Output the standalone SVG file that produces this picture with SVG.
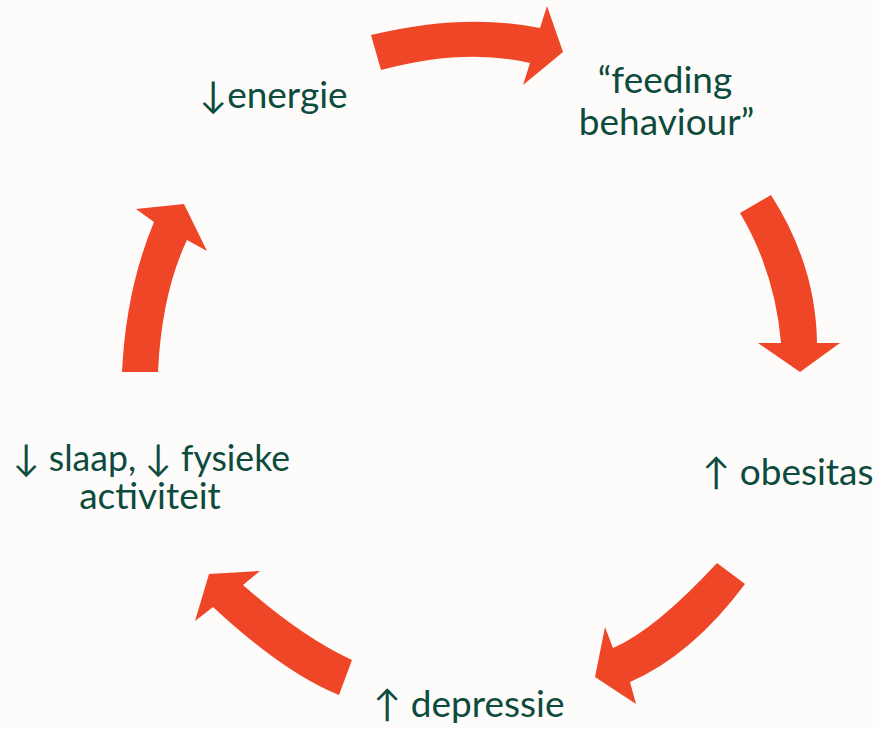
<svg xmlns="http://www.w3.org/2000/svg" width="879" height="729" viewBox="0 0 879 729">
<style>
.bg{fill:#fdfcfa}
.arrow{fill:#f04628;stroke:none}
.lbl{font-family:"Lato","Open Sans",sans-serif;font-size:37px;fill:#0d4b3e;text-anchor:middle}
</style>
<rect class="bg" x="0" y="0" width="879" height="729"/>
<g id="connectors">
<path class="arrow" d="M371,35 Q464.5,12.5 540,28 L547,6 L563,52 L523,85 L530,63 Q464.5,47.5 381,70 Z"/>
<path class="arrow" d="M771,195 Q816,265 817,343 L840,343 L800,372 L758,343 L781,343 Q775,272 740,213 Z"/>
<path class="arrow" d="M717,563 Q655,630 613,648 L605,627 L595,677 L636,704 L630,682 Q692,655 745,584 Z"/>
<path class="arrow" d="M352,660 Q302,637 243,585 L260,571 L209,574 L195,621 L213,607 Q284,673 339,695 Z"/>
<path class="arrow" d="M122,372 Q126,289 154,222 L136,209 L184,204 L207,251 L187,240 Q161.5,294 158,372 Z"/>
</g>
<g id="node-energie"><text class="lbl" x="273.5" y="108">↓energie</text></g>
<g id="node-feeding"><text class="lbl" x="665" y="93">“feeding</text><text class="lbl" x="666.5" y="135">behaviour”</text></g>
<g id="node-obesitas"><text class="lbl" x="788" y="485">↑ obesitas</text></g>
<g id="node-depressie"><text class="lbl" x="469" y="717">↑ depressie</text></g>
<g id="node-slaap"><text class="lbl" x="151.5" y="471" font-size="35" textLength="277" lengthAdjust="spacingAndGlyphs">↓ slaap, ↓ fysieke</text><text class="lbl" x="150" y="509">activiteit</text></g>
</svg>
